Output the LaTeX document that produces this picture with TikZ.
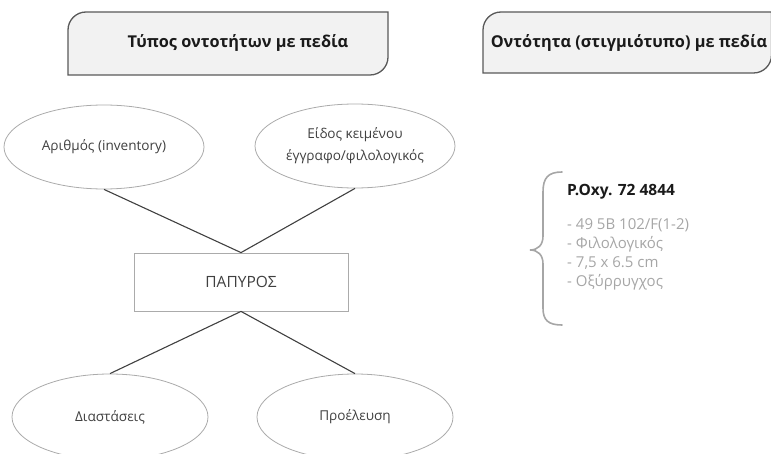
\documentclass[tikz,border=0pt]{standalone}
\usepackage{fontspec}
\setmainfont{Open Sans}
\usetikzlibrary{shapes.geometric}
\definecolor{hdrfill}{HTML}{F2F2F2}
\definecolor{hdrline}{HTML}{595959}
\definecolor{shapeline}{HTML}{ABABAB}
\definecolor{linkline}{HTML}{404040}
\definecolor{bodytext}{HTML}{404040}
\definecolor{titletext}{HTML}{1A1A1A}
\definecolor{listtext}{HTML}{A6A6A6}
\begin{document}
\begin{tikzpicture}[x=1pt,y=-1pt,
  hdr/.style={fill=hdrfill,draw=hdrline,line width=1.3pt},
  hdrtext/.style={font=\fontsize{16.3}{19}\selectfont\bfseries,text=titletext},
  attr/.style={ellipse,draw=shapeline,line width=0.8pt,fill=white,
    minimum width=200pt,minimum height=84pt,inner sep=0pt,
    font=\fontsize{13.6}{22}\selectfont,text=bodytext,align=center},
  entity/.style={rectangle,draw=shapeline,line width=0.8pt,
    minimum width=214pt,minimum height=58pt,inner sep=0pt,
    font=\fontsize{15.5}{18}\selectfont,text=bodytext},
  link/.style={draw=linkline,line width=1.1pt},
  brace/.style={draw=listtext,line width=1.6pt,line cap=round},
  listline/.style={anchor=base west,inner sep=0pt,
    font=\fontsize{15}{18}\selectfont,text=listtext}]
\useasboundingbox (0,0) rectangle (771,454);

% header tabs: rounded top-left and bottom-right corners
\draw[hdr] (68,40) [rounded corners=18pt] -- (68,12) [sharp corners] -- (388,12)
  [rounded corners=18pt] -- (388,75) [sharp corners] -- (68,75) -- cycle;
\node[hdrtext] (title1) at (238,43) {Τύπος οντοτήτων με πεδία};

\draw[hdr] (483,40) [rounded corners=18pt] -- (483,12) [sharp corners] -- (771.5,12)
  [rounded corners=18pt] -- (771.5,73) [sharp corners] -- (483,73) -- cycle;
\node[hdrtext] (title2) at (629,43) {Οντότητα (στιγμιότυπο) με πεδία};

% entity and its attributes
\node[entity] (papyrus) at (241,282) {ΠΑΠΥΡΟΣ};
\node[attr] (number) at (104,147) {Αριθμός (inventory)};
\node[attr] (kind) at (355,146) {Είδος κειμένου\\έγγραφο/φιλολογικός};
\node[attr,minimum width=196pt,minimum height=86pt] (dims) at (110,417) {Διαστάσεις};
\node[attr,minimum width=196pt,minimum height=86pt] (origin) at (355,417) {Προέλευση};

\draw[link] (number.south) -- (papyrus.north) -- (kind.south);
\draw[link] (dims.north) -- (papyrus.south) -- (origin.north);

% instance with its field values
\draw[brace] (562,172) .. controls (548,172) and (543,178) .. (543,192) -- (543,236)
  .. controls (543,245) and (538,250) .. (530,250)
  .. controls (538,250) and (543,255) .. (543,264) -- (543,308)
  .. controls (543,320) and (548,325) .. (562,325);
\node[anchor=base west,inner sep=0pt,font=\fontsize{15.5}{18}\selectfont\bfseries,text=titletext]
  (instance) at (567,195.5) {P.Oxy. 72 4844};
\node[listline] (inv) at (567,229.5) {- 49 5B 102/F(1-2)};
\node[listline] (genre) at (567,248.5) {- Φιλολογικός};
\node[listline] (size) at (567,267.5) {- 7,5 x 6.5 cm};
\node[listline] (place) at (567,286.5) {- Οξύρρυγχος};
\end{tikzpicture}
\end{document}
